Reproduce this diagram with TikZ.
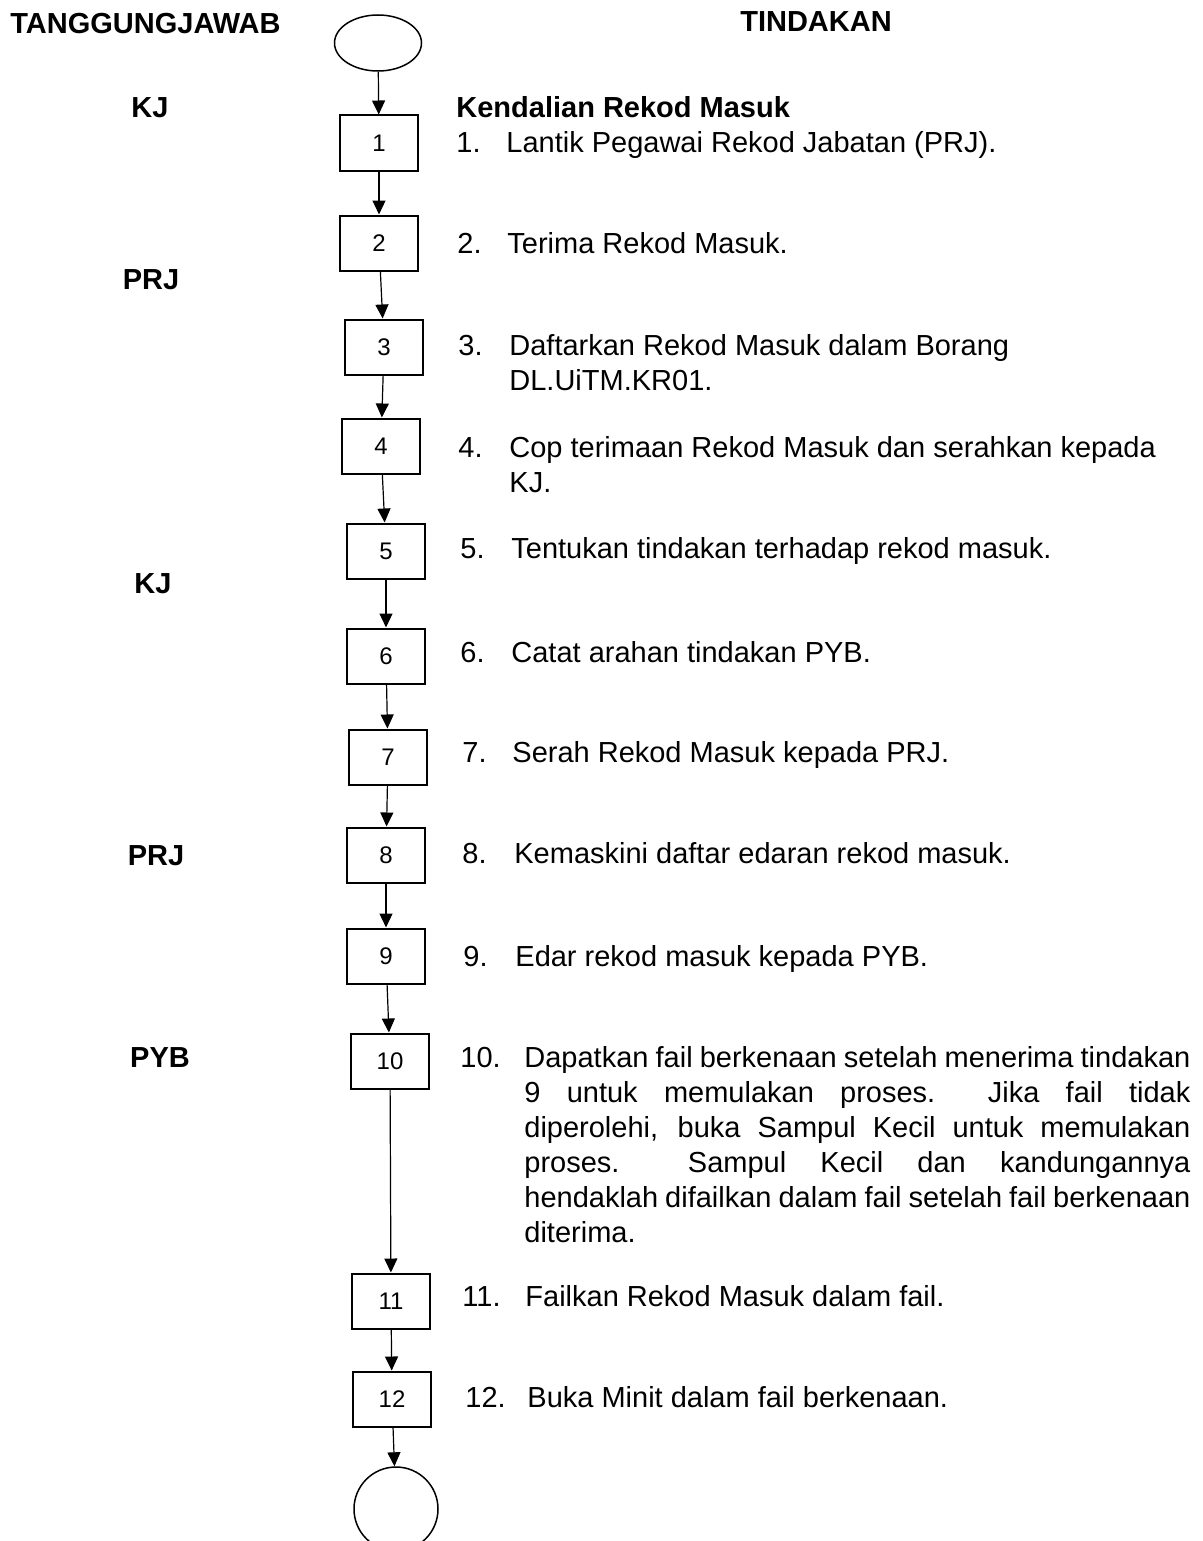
\documentclass[tikz,border=0pt]{standalone}
\usepackage{fontspec}
\setmainfont{Liberation Sans}
\usetikzlibrary{shapes.geometric,arrows.meta}
\begin{document}
\begin{tikzpicture}[x=0.5pt,y=-0.5pt,
 stepbox/.style={draw,line width=1pt,minimum width=39pt,minimum height=27.5pt,inner sep=0pt,font=\fontsize{12}{14}\selectfont},
 flow/.style={line width=0.6pt,-{Triangle[length=7pt,width=6.5pt]}},
 body/.style={anchor=base west,inner sep=0pt,font=\fontsize{14.5}{17.5}\selectfont},
 head/.style={anchor=base west,inner sep=0pt,font=\bfseries\fontsize{14.5}{17.5}\selectfont},
 role/.style={anchor=base,inner sep=0pt,font=\bfseries\fontsize{14.5}{17.5}\selectfont}]
\useasboundingbox (0,0) rectangle (1203,1541);

% headings
\node[head] (hTJ) at (10,34) {TANGGUNGJAWAB};
\node[role] (hTD) at (816,32) {TINDAKAN};

% roles
\node[role] (r1) at (150,118) {KJ};
\node[role] (r2) at (151,289) {PRJ};
\node[role] (r3) at (153,593) {KJ};
\node[role] (r4) at (156,865) {PRJ};
\node[role] (r5) at (160,1067) {PYB};

% flow shapes
\node[draw,ellipse,line width=0.75pt,minimum width=43.5pt,minimum height=28pt,inner sep=0pt] (start) at (378,43) {};
\node[stepbox] (b1) at (379,143) {1};
\node[stepbox] (b2) at (379,243) {2};
\node[stepbox] (b3) at (384,347) {3};
\node[stepbox] (b4) at (381,446) {4};
\node[stepbox] (b5) at (386,551) {5};
\node[stepbox] (b6) at (386,656) {6};
\node[stepbox] (b7) at (388,757) {7};
\node[stepbox] (b8) at (386,855) {8};
\node[stepbox] (b9) at (386,956) {9};
\node[stepbox] (b10) at (390,1061) {10};
\node[stepbox] (b11) at (391,1301) {11};
\node[stepbox] (b12) at (392,1399) {12};
\node[draw,circle,line width=0.75pt,minimum size=42pt,inner sep=0pt] (stop) at (396,1509) {};

\draw[flow] (start) -- (b1);
\draw[flow] (b1) -- (b2);
\draw[flow] (b2) -- (b3);
\draw[flow] (b3) -- (b4);
\draw[flow] (b4) -- (b5);
\draw[flow] (b5) -- (b6);
\draw[flow] (b6) -- (b7);
\draw[flow] (b7) -- (b8);
\draw[flow] (b8) -- (b9);
\draw[flow] (b9) -- (b10);
\draw[flow] (b10) -- (b11);
\draw[flow] (b11) -- (b12);
\draw[flow] (b12) -- (stop);

% actions
\node[head] (title) at (456,118) {Kendalian Rekod Masuk};
\node[body] (n1) at (456,153) {1.};
\node[body] (t1) at (506,153) {Lantik Pegawai Rekod Jabatan (PRJ).};
\node[body] (n2) at (457,253) {2.};
\node[body] (t2) at (507,253) {Terima Rekod Masuk.};
\node[body] (n3) at (458,355) {3.};
\node[body] (t3) at (509,355) {Daftarkan Rekod Masuk dalam Borang};
\node[body] (t3b) at (509,390) {DL.UiTM.KR01.};
\node[body] (n4) at (458,457) {4.};
\node[body] (t4) at (509,457) {Cop terimaan Rekod Masuk dan serahkan kepada};
\node[body] (t4b) at (509,492) {KJ.};
\node[body] (n5) at (460,558) {5.};
\node[body] (t5) at (511,558) {Tentukan tindakan terhadap rekod masuk.};
\node[body] (n6) at (460,662) {6.};
\node[body] (t6) at (511,662) {Catat arahan tindakan PYB.};
\node[body] (n7) at (462,762) {7.};
\node[body] (t7) at (512,762) {Serah Rekod Masuk kepada PRJ.};
\node[body] (n8) at (462,863) {8.};
\node[body] (t8) at (514,863) {Kemaskini daftar edaran rekod masuk.};
\node[body] (n9) at (463,966) {9.};
\node[body] (t9) at (515,966) {Edar rekod masuk kepada PYB.};
\node[body] (n10) at (460,1067) {10.};
\node[body] (t10) at (524,1067) {\parbox[t]{333pt}{\fontsize{14.5}{17.5}\selectfont\spaceskip=0.22em plus 0.5em minus 0.1em
Dapatkan fail berkenaan setelah menerima tindakan\linebreak
9 untuk memulakan proses.\ \ Jika fail tidak\linebreak
diperolehi, buka Sampul Kecil untuk memulakan\linebreak
proses.\ \ Sampul Kecil dan kandungannya\linebreak
hendaklah difailkan dalam fail setelah fail berkenaan\linebreak
diterima.}};
\node[body] (n11) at (462,1306) {11.};
\node[body] (t11) at (525,1306) {Failkan Rekod Masuk dalam fail.};
\node[body] (n12) at (465,1407) {12.};
\node[body] (t12) at (527,1407) {Buka Minit dalam fail berkenaan.};
\end{tikzpicture}
\end{document}
